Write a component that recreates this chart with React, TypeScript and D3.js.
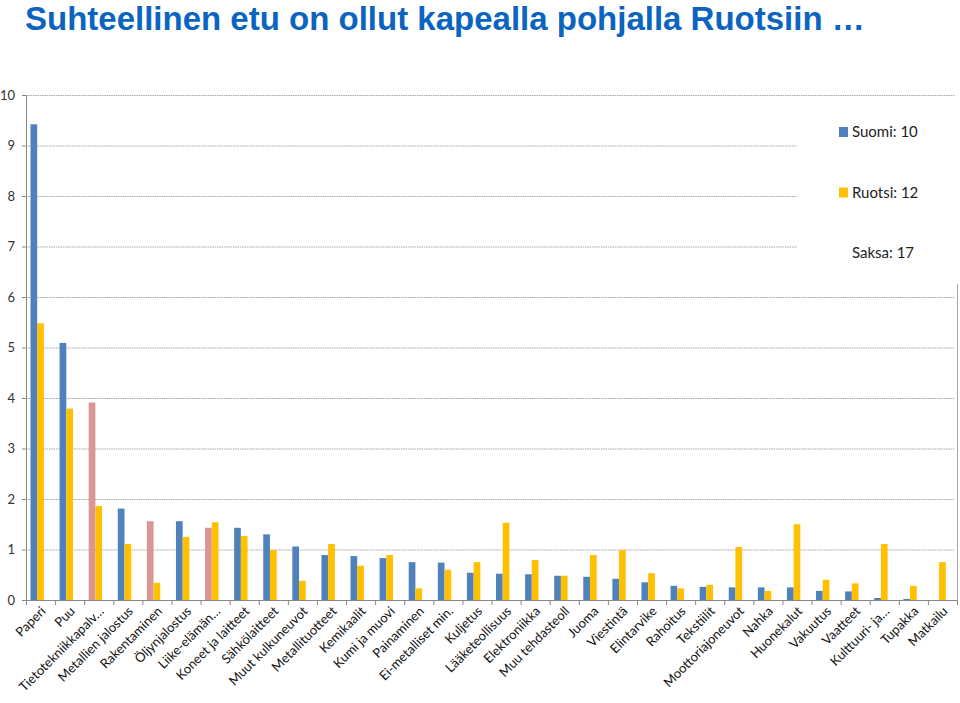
import React from "react";
import * as d3 from "d3";

const categories = [
  "Paperi", "Puu", "Tietotekniikkapalv…", "Metallien jalostus", "Rakentaminen",
  "Öljynjalostus", "Liike-elämän…", "Koneet ja laitteet", "Sähkölaitteet",
  "Muut kulkuneuvot", "Metallituotteet", "Kemikaalit", "Kumi ja muovi",
  "Painaminen", "Ei-metalliset min.", "Kuljetus", "Lääketeollisuus",
  "Elektroniikka", "Muu tehdasteoll", "Juoma", "Viestintä", "Elintarvike",
  "Rahoitus", "Tekstiilit", "Moottoriajoneuvot", "Nahka", "Huonekalut",
  "Vakuutus", "Vaatteet", "Kulttuuri- ja…", "Tupakka", "Matkailu",
];

const suomi = [
  9.42, 5.09, 3.91, 1.81, 1.56, 1.56, 1.43, 1.43, 1.3, 1.06, 0.89, 0.87, 0.83,
  0.75, 0.74, 0.54, 0.52, 0.51, 0.48, 0.46, 0.42, 0.35, 0.28, 0.26, 0.25, 0.25,
  0.25, 0.18, 0.17, 0.04, 0.02, 0,
];

const ruotsi = [
  5.48, 3.79, 1.86, 1.11, 0.34, 1.25, 1.54, 1.27, 0.99, 0.38, 1.11, 0.68, 0.89,
  0.23, 0.6, 0.75, 1.53, 0.79, 0.48, 0.89, 0.99, 0.53, 0.23, 0.3, 1.05, 0.18,
  1.5, 0.4, 0.33, 1.11, 0.28, 0.75,
];

// Saksa series is present in the chart but drawn without visible bars
const saksa: (number | null)[] = categories.map(() => null);

const highlighted = ["Tietotekniikkapalv…", "Rakentaminen", "Liike-elämän…"];

const seriesNames = ["Suomi", "Ruotsi", "Saksa"];
const legendLabels = ["Suomi: 10", "Ruotsi: 12", "Saksa: 17"];
const yTicks = [0, 1, 2, 3, 4, 5, 6, 7, 8, 9, 10];

const W = 960;
const H = 703;
const left = 26;
const right = 957;
const top = 95;
const bottom = 600;

const BLUE = "#4F81BD";
const YELLOW = "#FFC000";
const PINK = "#D99694";
const FONT = "Lato, 'Open Sans', sans-serif";

export default function App() {
  const x = d3.scaleBand<string>().domain(categories).range([left, right]).padding(0);
  const xs = d3
    .scaleBand<string>()
    .domain(seriesNames)
    .range([0, x.bandwidth()])
    .paddingInner(0)
    .paddingOuter(0.67);
  const y = d3.scaleLinear().domain([0, 10]).range([bottom, top]);

  const seriesData = [suomi, ruotsi, saksa];

  return (
    <svg
      width={W}
      height={H}
      style={{ position: "absolute", left: 0, top: 0, background: "#fff" }}
    >
      <text
        x={25}
        y={30}
        fontFamily="'Liberation Sans', Arial, sans-serif"
        fontWeight="bold"
        fontSize={33}
        fill="#0A64C0"
      >
        Suhteellinen etu on ollut kapealla pohjalla Ruotsiin …
      </text>

      {/* gridlines */}
      {yTicks
        .filter((t) => t > 0)
        .map((t) => (
          <line
            key={t}
            x1={left}
            x2={right - 2}
            y1={y(t) + 0.5}
            y2={y(t) + 0.5}
            stroke="#A6A6A6"
            strokeWidth={1}
            strokeDasharray="1.5 0.8"
          />
        ))}

      {/* bars */}
      {categories.map((c, i) =>
        seriesData.map((s, si) => {
          const v = s[i];
          if (v == null || v <= 0) return null;
          let fill = si === 0 ? BLUE : YELLOW;
          if (si === 0 && highlighted.includes(c)) fill = PINK;
          return (
            <rect
              key={c + si}
              x={(x(c) as number) + (xs(seriesNames[si]) as number)}
              y={y(v)}
              width={xs.bandwidth()}
              height={y(0) - y(v)}
              fill={fill}
            />
          );
        })
      )}

      {/* axes */}
      <line x1={left + 0.5} x2={left + 0.5} y1={top} y2={bottom} stroke="#868686" />
      <line x1={left} x2={right} y1={bottom + 0.5} y2={bottom + 0.5} stroke="#868686" />
      {yTicks.map((t) => (
        <g key={"yt" + t}>
          <line x1={left - 4} x2={left} y1={y(t) + 0.5} y2={y(t) + 0.5} stroke="#868686" />
          <text
            x={left - 11}
            y={y(t) + 4.5}
            textAnchor="end"
            fontFamily={FONT}
            fontSize={13}
            fill="#333"
          >
            {t}
          </text>
        </g>
      ))}
      {categories.map((c) => (
        <line
          key={"xt" + c}
          x1={(x(c) as number) + 0.5}
          x2={(x(c) as number) + 0.5}
          y1={bottom}
          y2={bottom + 5}
          stroke="#868686"
        />
      ))}
      <line x1={right + 0.5} x2={right + 0.5} y1={bottom} y2={bottom + 5} stroke="#868686" />
      {categories.map((c) => {
        const cx = (x(c) as number) + x.bandwidth() / 2 + 6;
        return (
          <text
            key={"xl" + c}
            transform={`translate(${cx},${bottom + 12}) rotate(-45)`}
            textAnchor="end"
            fontFamily={FONT}
            fontSize={13}
            fill="#111"
          >
            {c}
          </text>
        );
      })}

      {/* legend box */}
      <rect x={797} y={100} width={162} height={184} fill="#fff" />
      <line x1={right + 0.5} x2={right + 0.5} y1={284} y2={bottom} stroke="#A6A6A6" />
      {legendLabels.map((l, i) => {
        const ly = 137 + i * 60.5;
        return (
          <g key={l}>
            {i < 2 && (
              <rect x={839} y={ly - 10} width={9} height={10} fill={i === 0 ? BLUE : YELLOW} />
            )}
            <text x={852} y={ly} fontFamily={FONT} fontSize={15} fill="#222">
              {l}
            </text>
          </g>
        );
      })}
    </svg>
  );
}
